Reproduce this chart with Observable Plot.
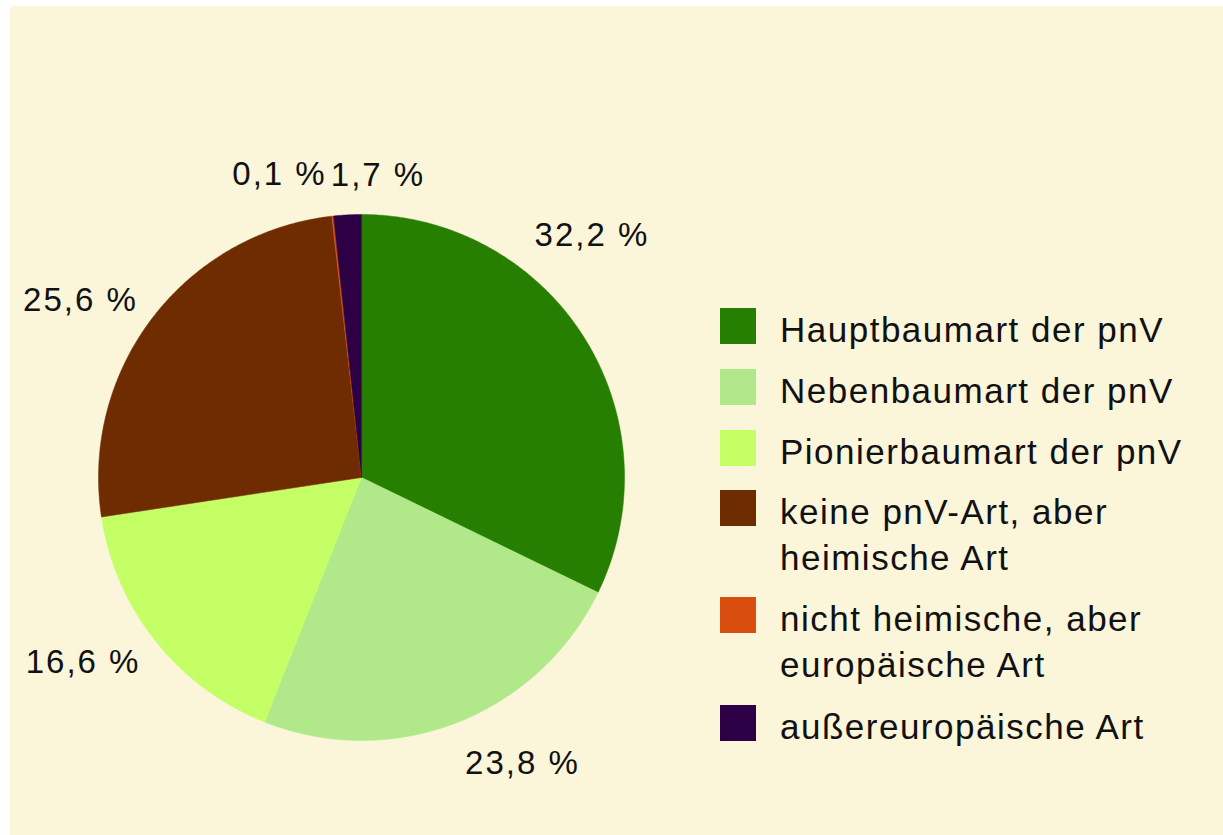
<!DOCTYPE html>
<html>
<head>
<meta charset="utf-8">
<script src="https://cdn.jsdelivr.net/npm/d3@7"></script>
<script src="https://cdn.jsdelivr.net/npm/@observablehq/plot@0.6"></script>
<style>
  html, body { margin: 0; padding: 0; background: #ffffff; }
  #frame { position: absolute; left: 10px; top: 6px; width: 1213px; height: 829px; background: #FBF5DA; }
  #chart { position: absolute; left: 0; top: 0; }
  #chart svg text { letter-spacing: 2px; }
  .leg-sw { position: absolute; width: 36px; height: 36px; }
  .leg-tx { position: absolute; left: 780px; font-family: "Liberation Sans", Arial, sans-serif; font-size: 35px; line-height: 46px; letter-spacing: 1.5px; color: #111; white-space: nowrap; }
</style>
</head>
<body>
<div id="frame"></div>
<div id="chart"></div>
<div id="legend"></div>
<script>
// ---- data ----
const categories = [
  "Hauptbaumart der pnV",
  "Nebenbaumart der pnV",
  "Pionierbaumart der pnV",
  "keine pnV-Art, aber heimische Art",
  "nicht heimische, aber europäische Art",
  "außereuropäische Art"
];
const legendLines = [
  ["Hauptbaumart der pnV"],
  ["Nebenbaumart der pnV"],
  ["Pionierbaumart der pnV"],
  ["keine pnV-Art, aber", "heimische Art"],
  ["nicht heimische, aber", "europäische Art"],
  ["außereuropäische Art"]
];
const shares = [32.2, 23.8, 16.6, 25.6, 0.1, 1.7];
const labels = ["32,2 %", "23,8 %", "16,6 %", "25,6 %", "0,1 %", "1,7 %"];

// ---- styles / layout ----
const colors = ["#267F00", "#B0E88A", "#C4FF66", "#6E2C00", "#D94E0F", "#2D0045"];
// label placement: angle (deg, clockwise from top) and radius factor
const labelPolar = [[43.55, 1.272], [150.58, 1.246], [236.47, 1.270], [302.28, 1.264], [344.83, 1.192], [3.12, 1.152]];
const cx = 361, cy = 477, R = 263;

// ---- geometry ----
const total = d3.sum(shares);
const slicePts = [];
let acc = 0;
shares.forEach((v, i) => {
  const a0 = acc / total * 2 * Math.PI;
  const a1 = (acc + v) / total * 2 * Math.PI;
  acc += v;
  slicePts.push({cat: categories[i], x: 0, y: 0});
  const n = Math.max(2, Math.ceil((a1 - a0) / (Math.PI / 360)));
  for (let k = 0; k <= n; k++) {
    const a = a0 + (a1 - a0) * k / n;
    slicePts.push({cat: categories[i], x: Math.sin(a), y: Math.cos(a)});
  }
  slicePts.push({cat: categories[i], x: 0, y: 0});
});
const labelData = labels.map((t, i) => {
  const a = labelPolar[i][0] * Math.PI / 180, f = labelPolar[i][1];
  return {text: t, x: Math.sin(a) * f, y: Math.cos(a) * f};
});

const chart = Plot.plot({
  width: 1223,
  height: 835,
  margin: 0,
  style: {background: "transparent", overflow: "visible"},
  x: {domain: [-1, 1], range: [cx - R, cx + R], axis: null},
  y: {domain: [-1, 1], range: [cy + R, cy - R], axis: null},
  color: {domain: categories, range: colors},
  marks: [
    Plot.line(slicePts, {x: "x", y: "y", z: "cat", fill: "cat", stroke: "cat", strokeWidth: 0.5, curve: "linear"}),
    Plot.text(labelData, {x: "x", y: "y", text: "text", fontSize: 33, fill: "#111",
      fontFamily: "Liberation Sans, Arial, sans-serif", textAnchor: "middle", lineAnchor: "middle"})
  ]
});
document.getElementById("chart").appendChild(chart);

// ---- legend ----
const legTops = [308, 369, 430, 490, 597, 705];
const leg = document.getElementById("legend");
categories.forEach((c, i) => {
  const sw = document.createElement("div");
  sw.className = "leg-sw";
  sw.style.left = "720px";
  sw.style.top = legTops[i] + "px";
  sw.style.background = colors[i];
  leg.appendChild(sw);
  const tx = document.createElement("div");
  tx.className = "leg-tx";
  tx.style.top = (legTops[i] - 1) + "px";
  tx.innerHTML = legendLines[i].join("<br>");
  leg.appendChild(tx);
});
</script>
</body>
</html>
